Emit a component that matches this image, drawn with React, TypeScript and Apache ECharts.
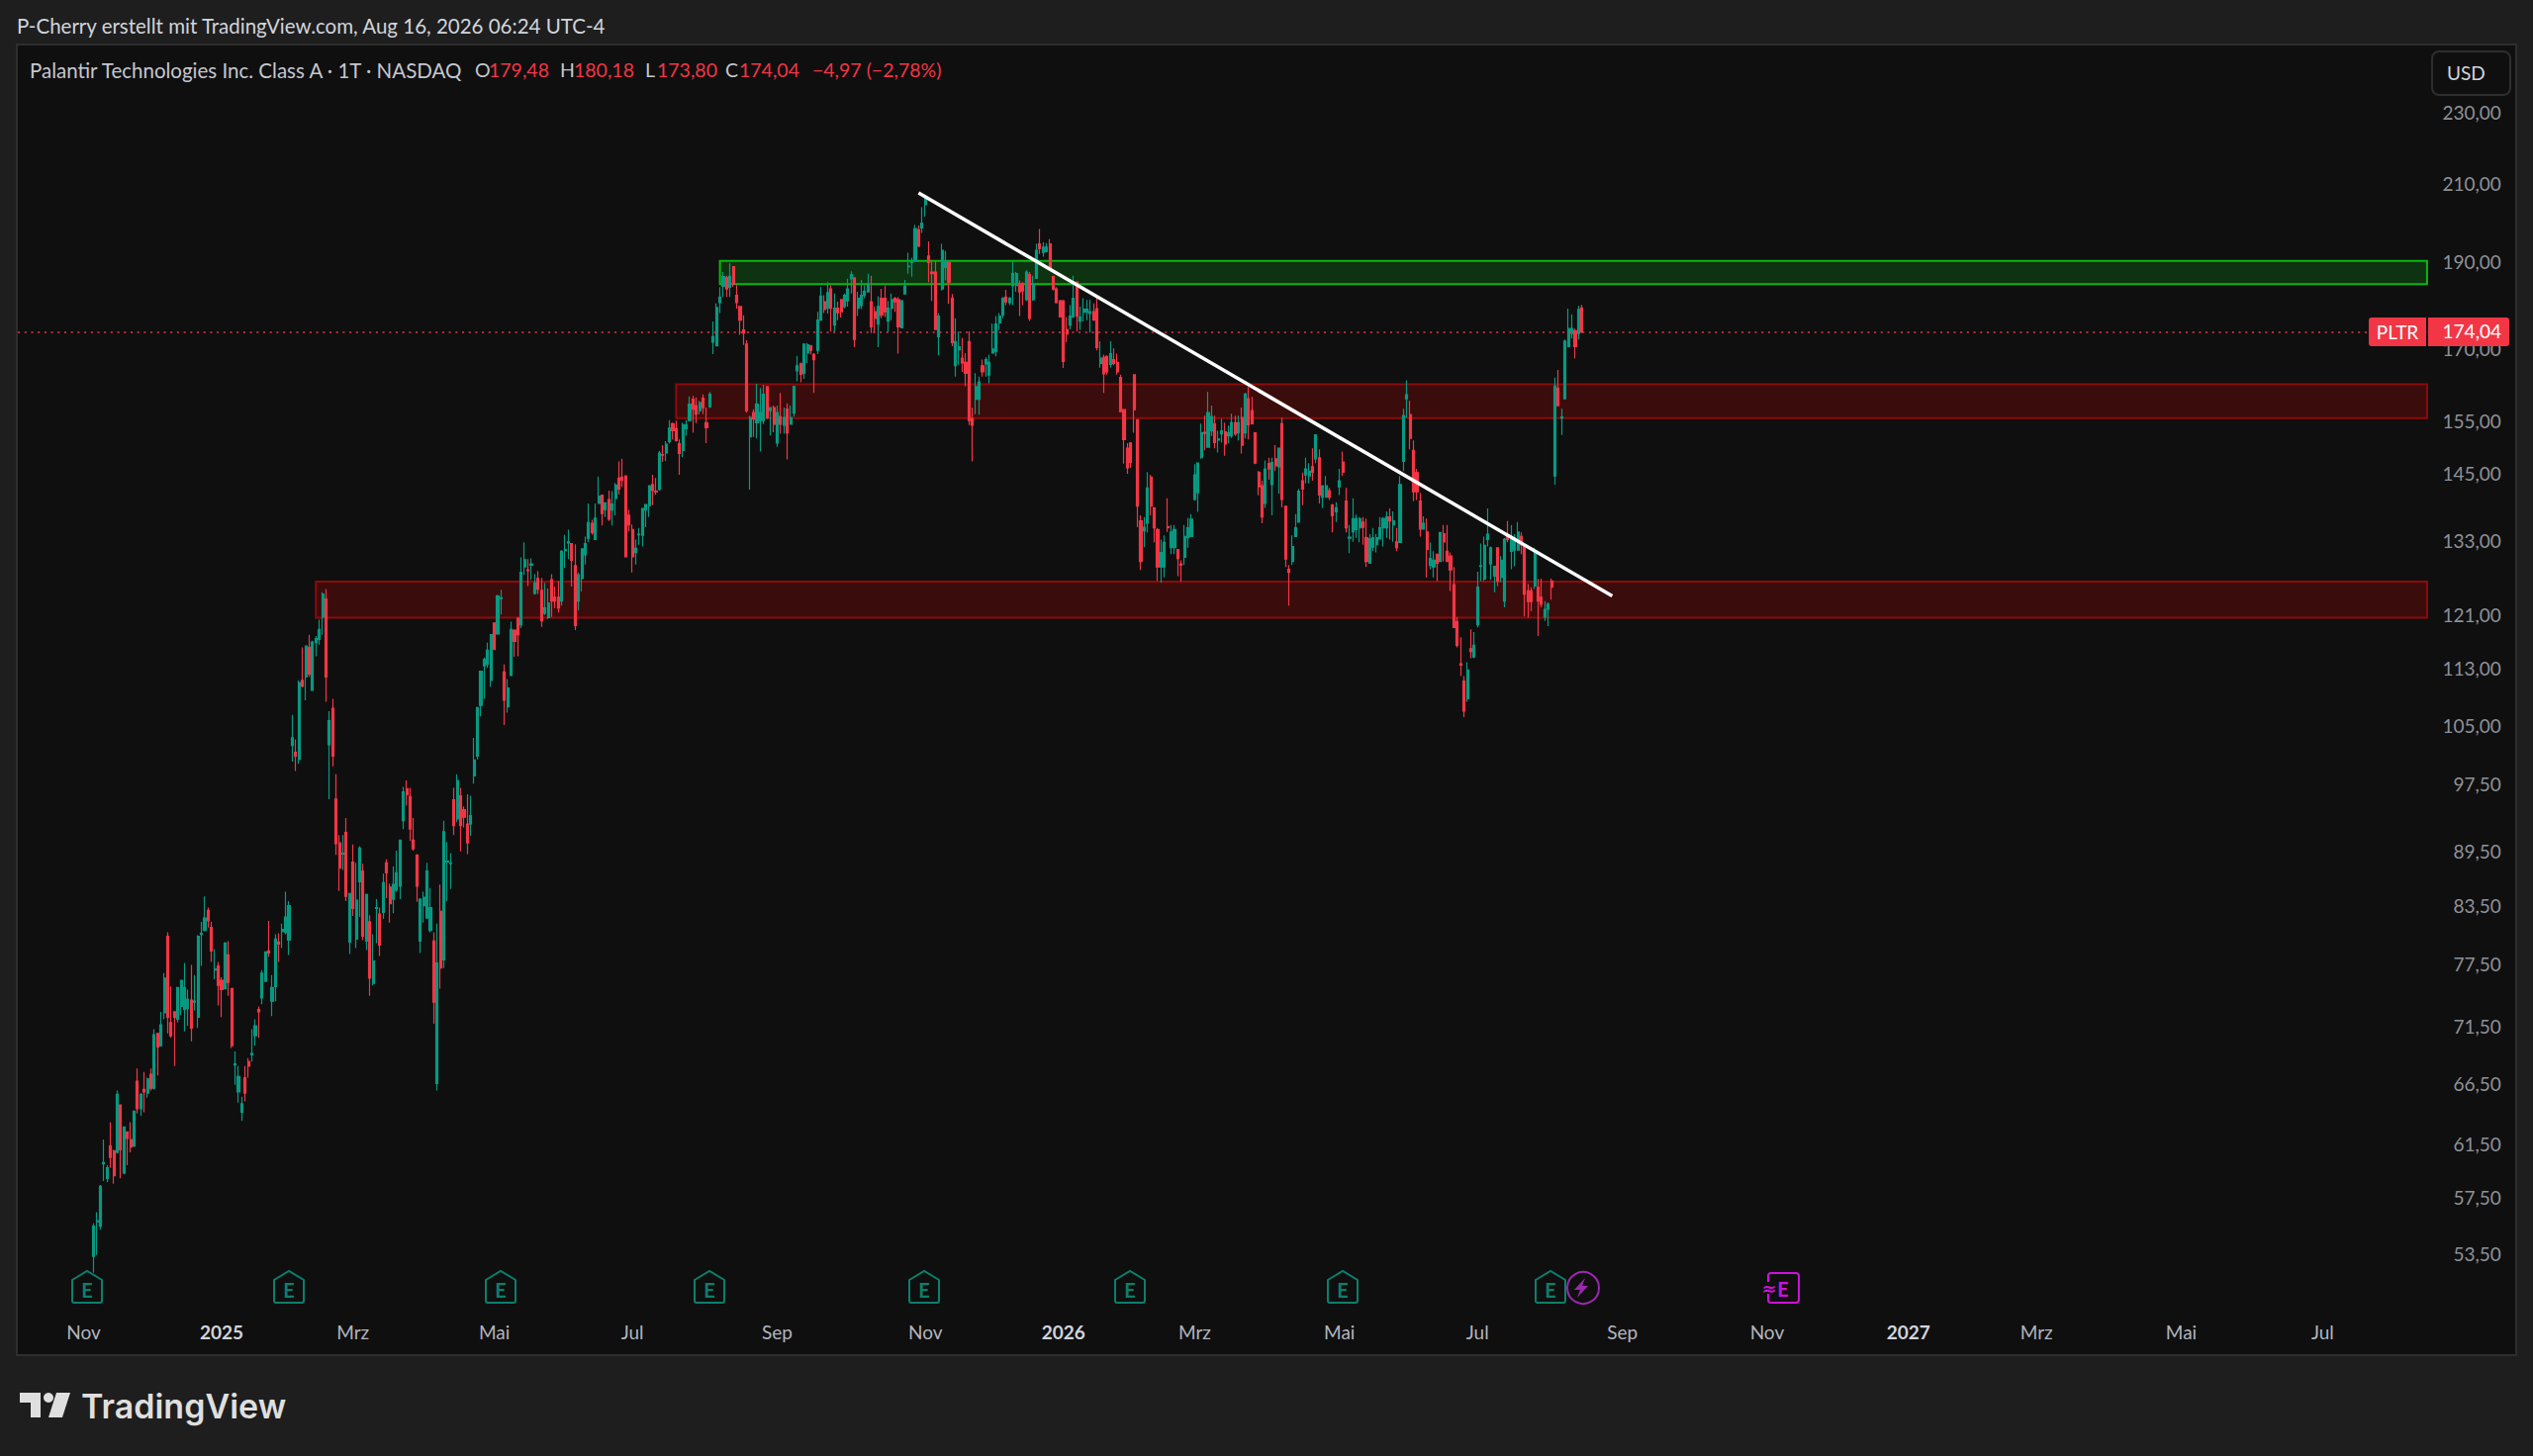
import React, { useEffect, useRef } from "react";
import * as echarts from "echarts";

// each row: open, close, low, high
const candles: number[][] = [
[53.4,55.5,52.3,55.7],[55.8,55.9,53.5,56.5],[55.5,58.4,55.25,58.5],[60.1,60.2,58.8,62],[59,59.8,58.7,60],[61.5,60.6,59.8,63.4],[61.1,59.2,58.6,61.2],[61,65.7,60.9,66],[64.8,61.2,59,64.8],[59.4,63,59.3,63],
[62.6,62.1,60,62.6],[62,61.4,61,63.4],[61.5,64.3,61.4,64.3],[66.8,64.5,64.1,67.9],[64.5,65.7,63.9,65.8],[66.1,65.9,64.2,67.6],[65.8,67,65.4,67.1],[67.4,66.2,66,67.9],[66.2,70.9,66.1,71.4],[71,69.8,67.3,71],
[69.9,71.8,69.8,73],[72.9,76.2,72.3,76.7],[80.4,72.5,71,80.8],[72,70.8,70.6,75.4],[73,72.5,68.1,73],[72.3,75.3,72,75.3],[73.5,76,72.7,76],[73.2,75.3,71.2,77.7],[73.3,74.2,71.7,75.1],[74.1,71.5,70.3,77.5],
[73.9,74,73.1,76.5],[72.5,80.4,71.5,80.5],[80.6,80.7,77.4,81.9],[81,82.3,80.9,84.6],[83.1,82,81.3,83.4],[81.3,78.9,77.8,81.9],[77,77.1,76.1,79.1],[77.4,75.5,73.6,77.8],[76,75.1,72.5,76.3],[75.2,79.7,75.1,79.8],
[78.5,75.8,74.5,79.9],[75.2,69.9,69.7,75.2],[68.2,68.3,66.5,69.4],[65.9,67.2,65,68.1],[64.2,64.9,63.5,65.5],[67.1,65.8,65.1,68.1],[68.5,68.1,67.1,68.8],[69.1,69.2,68.5,71.4],[70.8,71.7,69.9,72.3],[73.2,73,70.6,73.5],
[74.3,76.7,73.7,77],[75.9,78.8,75.9,78.8],[78.9,78.7,78.3,82],[74,75.3,72.6,76.5],[75.4,80.1,74,80.6],[79.8,79.6,77.8,80.7],[80.9,81.1,79.2,81.7],[80.8,82.4,80.6,85.1],[80,83.6,78.5,84.1],
[102.6,103.6,100.5,106.7],[101.7,101.2,99.3,103.4],[100.8,111.2,100.2,111.5],[111.5,110.7,110.5,116.3],[112,116.5,108.7,116.6],[116.3,112.4,112,118.2],[110.1,117.1,110,117.3],[117,117.6,115,118],[117.5,119,116.7,120.5],[120.9,124.5,118.2,124.8],
[123.7,112,108.5,125.3],[102.7,105.9,95.8,107.2],[107.6,101.2,99.9,108.9],[95.8,90.5,89.2,98.9],[90.6,87.7,85.2,91.5],[89.3,89.4,87.5,91.5],[91.8,84.6,84.1,93.5],[79.8,84.9,78.6,84.9],[88.4,83.3,82.5,90.4],[80.1,84.2,79.2,88.3],
[86.2,90,82.4,90.2],[87.4,80.4,80,88.2],[79.9,84.8,79,84.9],[81.9,76.2,74.5,82.6],[75.7,77.9,75.5,80.6],[83.3,83.4,79.7,84.3],[82.7,79.5,78.4,83.4],[82.9,86.1,82.2,87.1],[88.3,87.2,84.4,88.7],[85.6,83.8,81.8,86],
[84.3,85.9,82.8,87.9],[85.3,87.2,85.1,89.7],[85.7,90.9,84.3,90.9],[93.2,96.7,92.2,97.3],[97.1,96.3,95,98.1],[96.1,92.2,90.8,97.2],[90.9,89.9,89.7,93.5],[89.2,85.7,84,89.2],[79.9,84.3,78.7,84.4],[83.6,84.5,81.8,85.1],
[82.3,87.4,82.3,88.3],[81,83.4,80.8,85.5],[79.9,73.9,71.9,80.8],[66.6,77.7,66,81.7],[83,77.2,75.2,85.9],[78,91.9,77.2,93.2],[88.4,88.5,84.1,90.7],[88.2,88.3,85.4,89.4],[95.7,92.6,91.5,97.2],[93.4,98.1,93,98.9],
[96.2,92.6,89.6,97.2],[94.5,93.6,92.4,94.9],[92.8,90.6,89.3,96.4],[92.8,93.8,91.4,96.2],[98.7,100.7,97.7,103.6],[101.2,107.7,100.8,107.8],[108,112.8,106.5,112.9],[113.6,114.5,108.9,114.8],[113.8,115.9,113.3,117],[111.5,118.2,110.6,118.3],
[120,116,116,120],[118.3,124.2,118.2,124.4],[123.8,123.9,121.3,125.2],[112.7,108.7,105.3,113.8],[107.8,110.4,107,111.7],[112.2,119,112.2,120.2],[118.9,117.2,114.9,119],[120.7,118.2,115,120.9],[119.7,128,119.2,130.5],[128.9,130.1,127.6,133],
[128.4,128.3,125.8,130.2],[129.2,129.4,126.8,130.3],[124.6,126.3,124.4,127.7],[127,125.3,124.5,128.2],[125.1,120.3,119.4,127.1],[121.5,122.3,121.2,126.3],[120.8,123.1,120.6,125.4],[126.8,123.4,120.9,127.7],[124,123.4,122.3,125.7],[124,122.3,121.6,126.6],
[123.4,131.5,122.7,131.7],[131.6,131.8,128.7,134.3],[132.9,133.1,130.2,135.2],[132.8,130,125.7,132.8],[129.1,119.6,118.9,132.7],[123.4,127.6,121.9,128],[127,131.9,124.9,132],[130.9,132.8,129.3,134],[133.7,136.4,133,139.8],[136.3,134.7,134.3,136.9],
[133.5,137.2,133.4,139.8],[139.8,141.1,139.8,144.7],[141.3,138,135.9,141.3],[138.7,139.9,137.4,140],[140.5,137,136.7,142.1],[138.6,139.7,135.9,142],[140.7,143.1,137.7,143.5],[144.4,142.4,141.4,147.5],[144.6,144,142.8,148],[144.8,130.6,130.5,144.8],
[137.7,136,134.9,138.7],[135.2,130.6,128,136.1],[131.3,132,129.3,133.5],[134.3,134.4,132.6,135.5],[134.2,138.9,132.3,139],[138.6,139.6,135.6,139.6],[139.4,143,137.4,143.1],[143.2,142.1,139.5,145],[142,141.9,141.4,144.4],[142.3,149.1,142.1,149.5],
[148.8,148.7,147.4,150.6],[149.1,150.8,147.6,151.4],[151.3,153.9,150.9,155.5],[154.8,153.4,151.7,155],[153.8,151.5,151.3,155.4],[150.9,149,145,151.7],[149.6,154.6,148.3,155],[153.8,154.6,152.5,155.5],[155.4,158.7,155.4,160.3],[159.7,157.7,153,160.4],
[158.4,156.7,154.9,160.1],[157.4,159,156.7,159.4],[159.9,158,156.7,160.7],[155,154,151,158],[158.2,160.7,157.9,161.2],[171.8,173,169.2,176.4],[171,179.6,171,180.5],[180.7,182,178.3,184.3],[184.5,186.8,182,187.9],[186.6,183.9,182,187],
[184.3,186.9,182,190],[189.2,185.1,184.3,189.2],[182.4,180.7,179.3,184.8],[179.8,176.7,173.4,179.9],[174.5,173.8,171.2,177.8],[171.4,157.4,157,172.2],[152.2,156,142.3,156.4],[157,155.7,152.2,157.7],[155,158.7,151.9,162.9],[155.4,157,149.4,162],
[155.4,160.7,154.7,162.7],[162.3,156,155.7,162.4],[157.4,158,152.5,158],[158,154.7,153.1,158.4],[151,157,150.3,158.4],[156.2,154.7,152.8,161],[154.5,156,152.8,158],[157.7,153,147.9,158.9],[154.7,156,154.7,158.4],[156.9,162.3,156.2,162.5],
[165.6,166.7,163.4,168.8],[167.1,164.9,163.2,167.4],[165.1,171.4,163.9,171.4],[169.4,171.2,167.3,171.6],[171,170,169.1,171.2],[169.1,168,161,169.4],[170,176.7,169.2,178.6],[176.7,182.2,176.7,184.3],[180.9,179.1,178.3,182.4],[179.4,183,178.2,185.5],
[183.9,179.4,174.1,184.7],[175.6,179.4,174.1,182.8],[179.4,178.4,176.7,180.9],[181.4,178.6,177.3,181.4],[179.8,182.4,179.4,182.8],[181.1,183.9,179.8,186.3],[186.3,187.3,182.8,188.1],[186.5,172.4,170.7,186.5],[179.4,181.7,177.6,183.2],[180,182.4,179.2,186],
[182.4,183.3,181.7,184.7],[183.2,185.2,183.2,187.5],[180.9,175.2,173.8,187],[178.6,177.1,173.9,179.8],[175.8,179.8,170.7,182.2],[181.7,177.8,177.1,183.9],[181.7,178.6,177.4,184.7],[176.5,179.4,174.1,181.1],[179.4,181.4,176.7,182.8],[181.7,180.9,178.6,182],
[181.4,175.2,169.3,182],[175,181.1,175,181.3],[182.7,184.5,182.7,186],[189.2,189.3,187.5,192.6],[190.2,190.3,186.8,191.4],[190.6,198.6,190.5,199.6],[198.3,194.2,194,199.4],[198.8,200,197.5,204.1],[204.8,207,201.7,207.5],[191.8,190.2,185.5,195.4],
[187.9,187.5,181.1,190.6],[187.9,174.6,174.5,190.8],[173,177.6,168.9,178.3],[183.9,193.2,183.5,194.8],[189,190.6,185.9,193],[190.2,185.5,180.4,190.4],[181.7,171.7,170.9,182.7],[166.7,171.9,164.4,177.1],[170.1,170.8,166.9,174.1],[168.3,167.3,165.4,172.7],
[167.4,165.1,162.4,169.4],[171.9,155.4,154.5,174.2],[155.8,154.5,147.5,158],[159.7,162.3,156.7,165.1],[159.7,163.3,156.6,164.4],[166.7,165.4,164.4,168],[167.1,168,164.4,168.5],[164.7,167.4,163,169.1],[169.4,170.3,169.4,175.9],[169.8,175.8,168.7,177.6],
[176.1,177.6,174.5,178.3],[177.8,181.7,177.1,182],[182,180.9,180.1,183.7],[180.7,181.7,180.1,182],[184.7,187.6,180.1,190.4],[184.7,187.5,183.2,187.9],[185.1,183.2,177.6,185.9],[185.2,183.4,180.1,185.5],[181.4,187.9,181.1,188.3],[187.3,177.1,176.5,187.9],
[181.4,185.1,181.1,187],[186.4,193.2,186.3,194.8],[194.8,193.6,192.3,198.5],[192.7,194,191.6,195.2],[192.9,194,192.7,195],[194.8,188.4,188.3,196],[186.8,183.9,183.5,187],[183.9,180.7,180.5,184.3],[181.1,177.4,177.4,181.3],[181.1,167.6,166.2,181.3],
[174.6,173.6,171.8,177.4],[175.6,177.6,174.6,180.1],[177.4,181.7,177.2,187],[185.5,177.6,174.1,185.5],[176.5,177.4,174.5,179.8],[178.5,179.2,176.4,181.7],[178.5,179.2,176.7,181.3],[178.2,178.6,173.9,181.4],[178.6,176.7,176.6,180.5],[179.3,170.6,170,182.5],
[167.2,168.3,166.3,172],[168.5,165,161,169.1],[168.7,165.4,164.8,168.9],[167,169.3,166.3,172],[168,167.2,166.8,170.4],[167.4,165.4,164.8,169.3],[164.2,157.2,157.2,164.8],[157.6,151.7,147.1,157.7],[150,146.3,145.2,151],[151,147.3,146.3,151.2],
[164.8,157.6,153,164.8],[155.6,139.3,135.6,155.6],[136.7,129.8,128.4,137.7],[135,135.6,132.2,137.4],[136.3,142.6,134.7,145.5],[144.6,139.3,137.7,145],[139,135.5,133,139.1],[135.2,128.9,126.6,135.5],[128.9,131.3,126.3,133.5],[128.9,133,127.2,134.2],
[135.7,135.5,134.8,140.7],[132.1,134.8,131,136],[132.1,135.2,131,136],[131.8,130.3,127.4,131.8],[129.4,129.2,126.5,130],[130.5,134,129.2,136],[133.8,135.5,132.1,137.2],[134,137,134,137.9],[140.5,145,140.3,147],[141.7,147.2,138.3,147.3],
[148.2,153,148,154.8],[153.1,152.9,149.6,156.4],[150.2,157,150.2,161.2],[153.4,156.2,152.4,158.4],[154.8,151.1,150,156.4],[151.6,151.8,149.2,153.4],[152.8,153.4,151.1,155.8],[153.2,150.8,148.6,155],[152.4,153,151,154.4],[152.4,155,152,156.8],
[155,152.8,152.4,156.4],[153,155,151.5,156.4],[156,150.6,149,158],[153,160.8,151.9,161],[159.8,154.6,151.7,162.2],[157.4,154.8,154.6,160.2],[153,147.2,147,153],[145.5,142.8,141.3,145.7],[143,137.4,136.3,143.9],[139.8,146.1,139,147.7],
[147.1,146.1,144.1,148.2],[143.2,147.3,137.7,148.2],[148,146.7,145.7,150.6],[146.5,150,141.5,150],[154.8,140.5,139.1,156],[139.3,130.2,128.9,139.3],[128.5,128,122.7,129.2],[129.8,132.3,129.2,134.2],[134,135.5,134,137.9],[136.5,142,136.5,142.4],
[143.9,142.4,139.5,145.4],[145,146.1,143.4,148.2],[144.8,145.7,143.4,147.2],[146.5,145.5,143.9,150],[148,152.6,147.2,152.6],[148.2,141.3,139.8,149.8],[140.9,143,139,143],[140.9,143,140.9,144.8],[142.1,140.9,140.4,142.6],[139.5,137.6,134.7,139.7],
[138.3,139,136.5,140],[142.8,143.9,141.3,146.1],[147.4,145.5,144.8,149.4],[140.2,135.5,134.7,142.6],[133.7,133.9,131.2,136],[134.8,137.1,133.1,140.7],[135.2,137.1,133.8,137.8],[135.5,137.1,133,137.4],[136.5,135.6,132.6,137.4],[133.8,129.8,128.9,137.1],
[129.5,133.6,129.5,134.4],[132.2,133.8,131.5,135.5],[132.6,133.8,131.3,134.4],[133.6,135.5,133.5,137.4],[135.5,137.1,132.3,137.4],[135.5,137.4,133.8,138.4],[137.4,136.7,133.5,138.9],[136,136.7,133.1,138.4],[133.1,132.1,131.5,135.5],[133,143.2,133,144.8],
[147.5,156.4,145.7,157.8],[159.8,160.6,156,163.6],[156.6,151.9,149.8,159.4],[149.6,141.9,140.2,151.5],[145.4,141.9,140.4,146.1],[140.2,135.3,134,141.7],[135.3,136.3,135.2,137.5],[134.8,131.8,127.2,137.1],[129.2,130.3,128.5,133],[128.9,130,127.2,131.5],
[131,129.5,126.6,131],[129.8,134.7,129.7,134.8],[134.5,133.1,129.8,136],[131.5,129.8,129.8,136],[130.7,128.4,125,131.3],[126,119.3,119.3,128.9],[120.2,116.6,116.3,120.9],[113.9,113.7,112.1,117.8],[111.4,107.2,106.4,112.1],[108.9,113,108.5,114.1],
[116.1,115.7,114.7,119],[114.9,116.6,114.7,118.6],[119.7,125.6,119.3,128.1],[129,129.1,126.6,132.8],[126.9,132.5,126.6,134],[133.5,134.4,132.3,138.9],[129.4,132.1,126.8,132.3],[127.4,129,124.8,129],[132.1,126.6,125.8,132.1],[127.2,130,126.4,130.7],
[123.4,133.5,122.4,133.8],[134.2,133.5,133,136.7],[131.5,134,128.5,136],[131.7,133.8,129,134.4],[131.7,134.8,131.7,136.5],[134,132.6,131,134.7],[132.3,124.5,121,132.3],[125,123.3,120.8,126.1],[125,123.3,121.8,125.6],[125.8,131.5,125.3,132.1],
[125.6,123.4,118,127],[124,122.9,122.4,127],[120.9,122.1,120.3,123.4],[122.1,122.9,119.5,123.2],[126.6,125.6,123.6,127],[144.8,162.4,143.2,164.2],[162,158.4,158.4,165.8],[155.9,156.1,152.6,157.8],[159.8,172,159.8,172.4],[170.8,174.8,170.8,179.3],
[173.7,174.8,172.6,178],[174.3,170.8,168.3,174.8],[173.7,179.1,172.4,180],[179.48,174.04,173.8,180.18],
];

const firstBar = 22;
const slotCount = 716;

const priceTicks = [230, 210, 190, 170, 155, 145, 133, 121, 113, 105, 97.5, 89.5, 83.5, 77.5, 71.5, 66.5, 61.5, 57.5, 53.5];
const monthTicks: [number, string][] = [[19,"Nov"],[60,"2025"],[99,"Mrz"],[141,"Mai"],[182,"Jul"],[225,"Sep"],[269,"Nov"],[310,"2026"],[349,"Mrz"],[392,"Mai"],[433,"Jul"],[476,"Sep"],[519,"Nov"],[561,"2027"],[599,"Mrz"],[642,"Mai"],[684,"Jul"]];

const lastPrice = 174.04;
const greenZone = { fromBar: 208, top: 190.6, bottom: 185 };
const redZones = [
  { fromBar: 195, top: 162.8, bottom: 155.9 },
  { fromBar: 88, top: 126.5, bottom: 120.8 },
];
const trendline: [number, number][] = [[267, 207.9], [473, 124.2]];
const earningsX = [88, 292, 506, 717, 934, 1142, 1357];

const UP = "#089981";
const DOWN = "#F23645";
const FONT = "Lato";
const fmt = (v: number) => v.toFixed(2).replace(".", ",");

const HOUSE = "M-15 -8 L0 -17 L15 -8 L15 13 Q15 15 13 15 L-13 15 Q-15 15 -15 13 Z";
const BOLT = "M4 -10 L-7 2 L-1 2 L-4 10 L7 -2 L1 -2 Z";
let registered = false;
function registerShapes() {
  if (registered) return;
  echarts.graphic.registerShape("eHouse", echarts.graphic.extendPath(HOUSE, {}));
  echarts.graphic.registerShape("eBolt", echarts.graphic.extendPath(BOLT, {}));
  registered = true;
}

const txt = (x: number, y: number, text: string, fill: string, size = 19, extra: any = {}) => ({
  type: "text", x, y, z: 100, silent: true,
  style: { text, fill, font: `${extra.weight || 400} ${size}px ${extra.family || FONT}`, textAlign: extra.align || "left", textVerticalAlign: "middle" },
});

export default function App() {
  const ref = useRef<HTMLDivElement>(null);
  useEffect(() => {
    registerShapes();
    const chart = echarts.init(ref.current!, undefined, { renderer: "svg" });
    const categories = Array.from({ length: slotCount }, () => "");
    monthTicks.forEach(([i, l]) => (categories[i] = l));
    const tickIdx = new Set(monthTicks.map((m) => m[0]));
    const graphics: any[] = [
      { type: "rect", z: -1, silent: true, shape: { x: 17, y: 45, width: 2526, height: 1325 }, style: { fill: "#0f0f0f", stroke: "#2e2e2e", lineWidth: 2 } },
      txt(17, 25.5, "P-Cherry erstellt mit TradingView.com, Aug 16, 2026 06:24 UTC-4", "#d1d4dc", 20.5),
      txt(30, 70.5, "Palantir Technologies Inc. Class A · 1T · NASDAQ", "#c4c7cf", 20.5),
      txt(480, 70.5, "O", "#c4c7cf", 19.5), txt(494, 70.5, "179,48", DOWN, 19.5),
      txt(566, 70.5, "H", "#c4c7cf", 19.5), txt(580, 70.5, "180,18", DOWN, 19.5),
      txt(652, 70.5, "L", "#c4c7cf", 19.5), txt(664, 70.5, "173,80", DOWN, 19.5),
      txt(733, 70.5, "C", "#c4c7cf", 19.5), txt(747, 70.5, "174,04", DOWN, 19.5),
      txt(821, 70.5, "−4,97 (−2,78%)", DOWN, 19.5),
      { type: "rect", z: 100, silent: true, shape: { x: 2458, y: 52, width: 79, height: 44, r: 7 }, style: { fill: "#0f0f0f", stroke: "#2e2e2e", lineWidth: 2 } },
      txt(2473, 73, "USD", "#d1d4dc"),
      { type: "rect", z: 100, silent: true, shape: { x: 2394, y: 321, width: 58, height: 29, r: [3, 0, 0, 3] }, style: { fill: DOWN } },
      { type: "rect", z: 100, silent: true, shape: { x: 2454, y: 321, width: 82, height: 29, r: [0, 3, 3, 0] }, style: { fill: DOWN } },
      txt(2423, 335, "PLTR", "#ffffff", 19, { align: "center" }),
      txt(2528, 334, fmt(lastPrice), "#ffffff", 19, { align: "right" }),
      ...earningsX.flatMap((x) => [
        { type: "eHouse", x, y: 1302, z: 100, silent: true, style: { fill: "none", stroke: "#0b7f6c", lineWidth: 2 } },
        txt(x, 1304, "E", "#0b7f6c", 20, { align: "center", weight: 700 }),
      ]),
      { type: "circle", z: 100, silent: true, shape: { cx: 1600, cy: 1302, r: 16 }, style: { fill: "#0f0f0f", stroke: "#9c27b0", lineWidth: 2 } },
      { type: "eBolt", x: 1598, y: 1302, z: 101, silent: true, style: { fill: "#9c27b0" } },
      { type: "eHouse", x: 1567, y: 1302, z: 102, silent: true, style: { fill: "#0f0f0f", stroke: "#0b7f6c", lineWidth: 2 } },
      { ...txt(1567, 1304, "E", "#0b7f6c", 20, { align: "center", weight: 700 }), z: 103 },
      { type: "rect", z: 100, silent: true, shape: { x: 1787, y: 1287, width: 31, height: 30, r: 3 }, style: { fill: "#0f0f0f", stroke: "#cc12d9", lineWidth: 2 } },
      { type: "rect", z: 100, silent: true, shape: { x: 1783, y: 1296, width: 9, height: 12 }, style: { fill: "#0f0f0f" } },
      { ...txt(1788, 1302, "≈", "#cc12d9", 18, { align: "center", weight: 700, family: "DejaVu Sans" }), z: 101 },
      { ...txt(1802, 1303, "E", "#cc12d9", 20, { align: "center", weight: 700 }), z: 101 },
      { type: "polygon", z: 100, silent: true, shape: { points: [[20, 1408], [41, 1408], [41, 1433], [31, 1433], [31, 1418], [20, 1418]] }, style: { fill: "#dfdfdf" } },
      { type: "circle", z: 100, silent: true, shape: { cx: 49, cy: 1413, r: 5 }, style: { fill: "#dfdfdf" } },
      { type: "polygon", z: 100, silent: true, shape: { points: [[57, 1408], [71, 1408], [63, 1433], [49, 1433]] }, style: { fill: "#dfdfdf" } },
      txt(82, 1421, "TradingView", "#dfdfdf", 34, { weight: 600, family: "Inter" }),
    ];
    const zoneData = [
      ...redZones.map((z) => [
        { coord: [z.fromBar, z.top], itemStyle: { color: "#3b0c0c", borderColor: "#8e0a0a", borderWidth: 2 } },
        { coord: [slotCount - 1, z.bottom] },
      ]),
      [
        { coord: [greenZone.fromBar, greenZone.top], itemStyle: { color: "#0e3311", borderColor: "#0bb80b", borderWidth: 2 } },
        { coord: [slotCount - 1, greenZone.bottom] },
      ],
    ];
    chart.setOption({
      animation: false,
      backgroundColor: "#1e1e1e",
      textStyle: { fontFamily: FONT },
      grid: { left: 18.1, top: 46, width: 2436.5, height: 1324, containLabel: false },
      xAxis: {
        type: "category",
        data: categories,
        boundaryGap: true,
        axisLine: { show: false },
        axisTick: { show: false },
        splitLine: { show: false },
        axisLabel: {
          inside: true,
          margin: 14,
          fontSize: 19,
          fontFamily: FONT,
          color: "#b2b5be",
          interval: (i: number) => tickIdx.has(i),
          hideOverlap: false,
          formatter: (v: string) => (/^\d{4}$/.test(v) ? `{y|${v}}` : v),
          rich: { y: { fontWeight: 700, fontSize: 19, fontFamily: FONT, color: "#d1d4dc" } },
        },
      },
      yAxis: {
        type: "log",
        logBase: Math.E,
        min: 47.07,
        max: 251,
        position: "right",
        axisLine: { show: false },
        axisTick: { show: false },
        splitLine: { show: false },
        axisLabel: { show: false },
      },
      series: [
        {
          type: "line",
          name: "zones",
          z: 1,
          data: [],
          silent: true,
          markArea: { silent: true, data: zoneData, label: { show: false } },
          markLine: {
            silent: true,
            symbol: "none",
            label: { show: false },
            lineStyle: { color: DOWN, type: [2, 4.7], width: 2, opacity: 0.75 },
            data: [{ yAxis: lastPrice }],
          },
        },
        {
          type: "candlestick",
          name: "PLTR",
          z: 3,
          barWidth: 2.6,
          encode: { x: 0, y: [1, 2, 3, 4] },
          data: candles.map((c, k) => [firstBar + k, ...c]),
          itemStyle: { color: UP, color0: DOWN, borderColor: UP, borderColor0: DOWN, borderWidth: 1.2 },
        },
        {
          type: "line",
          name: "trend",
          z: 5,
          silent: true,
          symbol: "none",
          data: trendline,
          lineStyle: { color: "#ffffff", width: 3.5 },
        },
        {
          type: "scatter",
          name: "priceTicks",
          z: 6,
          silent: true,
          symbolSize: 0,
          clip: false,
          data: priceTicks.map((p) => [slotCount - 1, p]),
          label: {
            show: true,
            position: "right",
            distance: 75,
            align: "right",
            offset: [0, -1.5],
            fontSize: 19,
            fontFamily: FONT,
            color: "#b2b5be",
            formatter: (d: any) => fmt(d.value[1]),
          },
        },
      ],
      graphic: graphics,
    });
    return () => chart.dispose();
  }, []);
  return <div ref={ref} style={{ position: "fixed", left: 0, top: 0, width: 2560, height: 1472 }} />;
}
